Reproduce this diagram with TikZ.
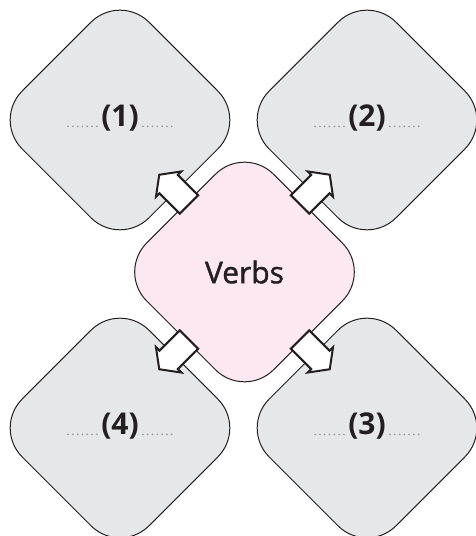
\documentclass[tikz,border=0pt]{standalone}
\usepackage{fontspec}
\setmainfont{Open Sans}
\newfontface\verbface{Open Sans}[FakeBold=1.2]
\usetikzlibrary{shapes.geometric,shapes.arrows}
\definecolor{boxgray}{HTML}{E6E7E8}
\definecolor{verbpink}{HTML}{FCE8F0}
\definecolor{inkline}{HTML}{231F20}
\definecolor{dotgray}{HTML}{9D9FA2}
\begin{document}
\begin{tikzpicture}[x=1pt,y=1pt,
    box/.style={diamond,draw=inkline,line width=1pt,rounded corners=41pt,
      minimum width=254pt,minimum height=254pt,inner sep=0pt,aspect=1},
    num/.style={inner sep=0pt,font=\fontsize{30}{36}\selectfont\bfseries,text=inkline},
    gap/.style={draw=dotgray,line width=2pt,line cap=round,dash pattern=on 0pt off 4.8pt},
    block/.style={single arrow,draw=inkline,fill=white,line width=2pt,
      inner xsep=0pt,inner ysep=12pt,minimum height=42pt,
      single arrow head extend=5pt,single arrow tip angle=107}]
      \useasboundingbox (0,0) rectangle (475,536);

      \node[box,fill=boxgray]   (d1) at (120,416)   {};
      \node[box,fill=boxgray]   (d2) at (367,416)   {};
      \node[box,fill=boxgray]   (d3) at (367,108)   {};
      \node[box,fill=boxgray]   (d4) at (120,108)   {};
      \node[box,fill=verbpink]  (vb) at (244.5,264) {};
      \node[font=\verbface\fontsize{30}{36}\selectfont,text=inkline] (vt) at (vb.center) {Verbs};

      \node[num] (n1) at ([yshift=2]d1.center) {(1)};
      \node[num] (n2) at ([yshift=2]d2.center) {(2)};
      \node[num] (n3) at ([yshift=2]d3.center) {(3)};
      \node[num] (n4) at ([yshift=2]d4.center) {(4)};
      \foreach \n in {n1,n2,n3,n4} {
        \draw[gap] ([xshift=-33]\n.base west) -- ([xshift=-2]\n.base west);
        \draw[gap] ([xshift=4]\n.base east) -- ([xshift=36]\n.base east);
      }

      \node[block,rotate=135] (a1) at (177.5,343) {}; % to (1)
      \node[block,rotate=45]  (a2) at (311.5,343) {}; % to (2)
      \node[block,rotate=-45] (a3) at (311.5,185) {}; % to (3)
      \node[block,rotate=225] (a4) at (177.5,185) {}; % to (4)
\end{tikzpicture}
\end{document}
